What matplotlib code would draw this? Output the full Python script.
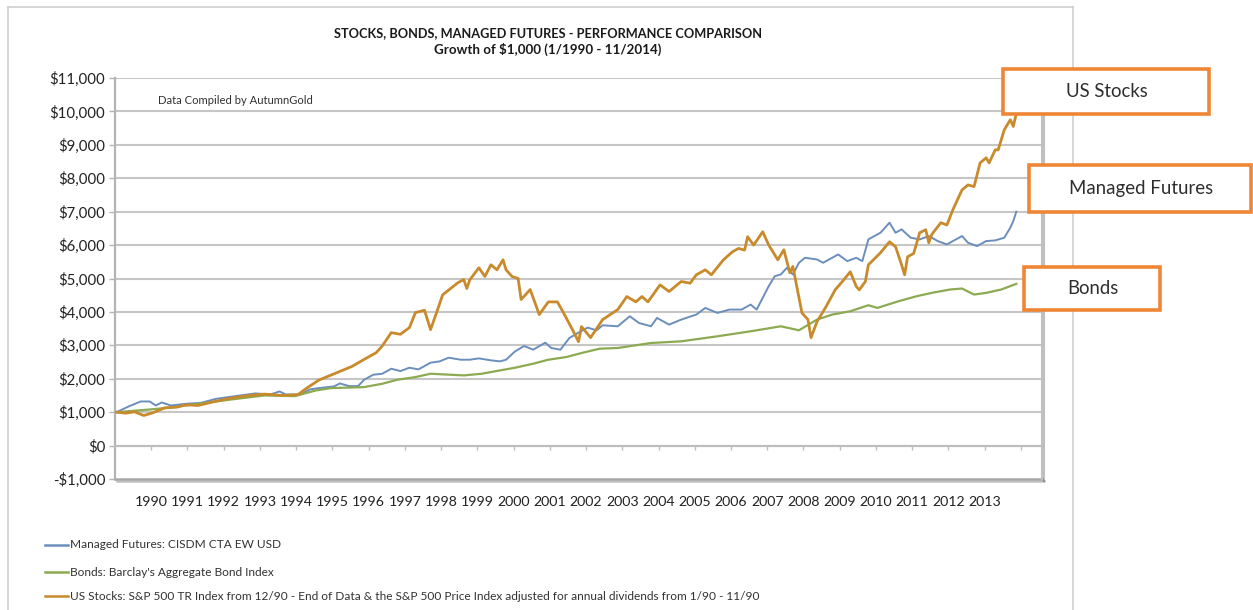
import matplotlib
matplotlib.use("Agg")
import matplotlib.pyplot as plt
import matplotlib.patheffects as pe
from matplotlib.lines import Line2D
from matplotlib.patches import Rectangle
from matplotlib.ticker import FuncFormatter, FixedLocator

plt.rcParams['font.family'] = ['Lato', 'DejaVu Sans']

TITLE = "STOCKS, BONDS, MANAGED FUTURES - PERFORMANCE COMPARISON"
SUBTITLE = "Growth of $1,000 (1/1990 - 11/2014)"
CREDIT = "Data Compiled by AutumnGold"

year_labels = [str(y) for y in range(1990, 2014)]
y_ticks = list(range(-1000, 12000, 1000))

series_names = ["Managed Futures: CISDM CTA EW USD",
                "Bonds: Barclay's Aggregate Bond Index",
                "US Stocks: S&P 500 TR Index from 12/90 - End of Data & the S&P 500 Price Index "
                "adjusted for annual dividends from 1/90 - 11/90"]
callout_names = ["Managed Futures", "Bonds", "US Stocks"]

# Managed futures: growth of $1,000
mf_dates = ["1990-01", "1990-05", "1990-09", "1990-12", "1991-02", "1991-04", "1991-07", "1991-12",
            "1992-05", "1992-10", "1993-06", "1993-11", "1994-04", "1994-07", "1994-09", "1995-02",
            "1995-05", "1995-08", "1996-01", "1996-03", "1996-06", "1996-09", "1996-11", "1997-02",
            "1997-05", "1997-08", "1997-11", "1998-02", "1998-05", "1998-09", "1998-12", "1999-03",
            "1999-07", "1999-10", "2000-01", "2000-05", "2000-08", "2000-10", "2001-01", "2001-04",
            "2001-07", "2001-11", "2002-01", "2002-04", "2002-07", "2002-10", "2003-01", "2003-04",
            "2003-06", "2003-11", "2004-03", "2004-06", "2004-10", "2004-12", "2005-04", "2005-08",
            "2006-01", "2006-04", "2006-08", "2006-12", "2007-04", "2007-07", "2007-09", "2007-11",
            "2008-01", "2008-03", "2008-05", "2008-07", "2008-09", "2008-11", "2009-01", "2009-05",
            "2009-07", "2009-10", "2009-12", "2010-03", "2010-06", "2010-08", "2010-10", "2011-02",
            "2011-05", "2011-07", "2011-09", "2011-12", "2012-03", "2012-06", "2012-09", "2012-12",
            "2013-03", "2013-05", "2013-07", "2013-10", "2014-01", "2014-04", "2014-07", "2014-09",
            "2014-10", "2014-11"]
mf_values = [1000, 1170, 1320, 1320, 1200, 1290, 1200, 1250,
             1280, 1400, 1500, 1560, 1530, 1620, 1530, 1530,
             1680, 1720, 1770, 1860, 1780, 1780, 1970, 2120,
             2150, 2300, 2230, 2330, 2280, 2480, 2520, 2630,
             2570, 2570, 2610, 2550, 2520, 2570, 2820, 2980,
             2870, 3080, 2920, 2870, 3220, 3380, 3530, 3450,
             3600, 3570, 3870, 3670, 3570, 3820, 3620, 3770,
             3920, 4120, 3970, 4070, 4070, 4220, 4070, 4420,
             4770, 5070, 5120, 5320, 5120, 5470, 5620, 5570,
             5470, 5620, 5720, 5520, 5620, 5520, 6170, 6370,
             6670, 6370, 6470, 6220, 6170, 6270, 6120, 6020,
             6170, 6270, 6070, 5970, 6120, 6140, 6220, 6520,
             6720, 7000]

# Bonds: growth of $1,000
bond_dates = ["1990-01", "1990-12", "1991-06", "1992-04", "1993-03", "1994-02", "1994-12", "1995-07",
              "1995-12", "1996-11", "1997-05", "1997-10", "1998-04", "1998-09", "1999-08", "2000-02",
              "2000-08", "2001-01", "2001-07", "2001-12", "2002-06", "2002-11", "2003-05", "2003-11",
              "2004-10", "2005-08", "2006-08", "2007-07", "2008-05", "2008-11", "2009-05", "2009-10",
              "2010-04", "2010-10", "2011-01", "2011-08", "2012-02", "2012-07", "2013-01", "2013-05",
              "2013-09", "2014-01", "2014-06", "2014-11"]
bond_values = [1000, 1080, 1130, 1250, 1380, 1500, 1480, 1650,
               1720, 1750, 1850, 1970, 2050, 2150, 2100, 2150,
               2250, 2330, 2450, 2570, 2650, 2770, 2900, 2920,
               3070, 3120, 3270, 3420, 3570, 3450, 3770, 3920,
               4020, 4200, 4120, 4320, 4470, 4570, 4670, 4700,
               4520, 4570, 4670, 4840]

# US stocks: growth of $1,000
stock_dates = ["1990-01", "1990-04", "1990-07", "1990-10", "1991-01", "1991-05", "1991-09", "1991-12",
               "1992-04", "1992-10", "1993-03", "1993-09", "1994-02", "1994-08", "1995-01", "1995-04",
               "1995-08", "1996-03", "1996-07", "1996-12", "1997-03", "1997-05", "1997-08", "1997-11",
               "1998-02", "1998-04", "1998-07", "1998-09", "1998-11", "1999-01", "1999-06", "1999-08",
               "1999-09", "1999-10", "2000-01", "2000-03", "2000-05", "2000-07", "2000-09", "2000-10",
               "2000-12", "2001-02", "2001-03", "2001-06", "2001-09", "2001-12", "2002-03", "2002-05",
               "2002-08", "2002-10", "2002-11", "2003-02", "2003-06", "2003-11", "2004-02", "2004-05",
               "2004-07", "2004-09", "2005-01", "2005-04", "2005-08", "2005-11", "2006-01", "2006-04",
               "2006-06", "2006-10", "2007-01", "2007-03", "2007-05", "2007-06", "2007-08", "2007-11",
               "2008-01", "2008-04", "2008-06", "2008-08", "2008-09", "2008-12", "2009-02", "2009-03",
               "2009-05", "2009-08", "2009-11", "2010-01", "2010-04", "2010-06", "2010-07", "2010-09",
               "2010-10", "2011-02", "2011-05", "2011-07", "2011-09", "2011-10", "2011-11", "2012-01",
               "2012-03", "2012-05", "2012-06", "2012-07", "2012-10", "2012-12", "2013-02", "2013-05",
               "2013-07", "2013-09", "2013-11", "2014-01", "2014-02", "2014-04", "2014-05", "2014-07",
               "2014-09", "2014-10", "2014-11"]
stock_values = [1000, 970, 1010, 900, 980, 1130, 1150, 1220,
                1200, 1330, 1420, 1500, 1540, 1500, 1520, 1720,
                1960, 2220, 2370, 2630, 2780, 2980, 3380, 3330,
                3530, 3980, 4050, 3470, 3980, 4510, 4870, 4970,
                4700, 4960, 5320, 5060, 5410, 5260, 5560, 5260,
                5060, 5000, 4370, 4670, 3920, 4300, 4300, 3980,
                3470, 3110, 3560, 3230, 3770, 4070, 4460, 4300,
                4460, 4300, 4810, 4610, 4910, 4860, 5110, 5260,
                5110, 5560, 5800, 5900, 5850, 6250, 6000, 6400,
                6000, 5560, 5860, 5170, 5360, 3970, 3770, 3230,
                3710, 4160, 4660, 4870, 5200, 4760, 4660, 4910,
                5410, 5770, 6100, 5950, 5410, 5110, 5650, 5750,
                6370, 6460, 6070, 6320, 6670, 6600, 7060, 7650,
                7800, 7750, 8460, 8610, 8460, 8850, 8850, 9450,
                9750, 9550, 9950]

colors = ["#6B8EBD", "#8CAA52", "#C98A2C"]
callout_color = "#EE8636"

W, H = 1253, 610


def month_index(dates):
    out = []
    for d in dates:
        y, m = d.split("-")
        out.append((int(y) - 1990) * 12 + int(m) - 1)
    return out


def fx(px):
    return px / W


def fy(py):
    return 1 - py / H


fig = plt.figure(figsize=(W / 100, H / 100), dpi=100)
fig.patch.set_facecolor("white")

# outer chart frame
for xs, ys in [((8, 8), (7, 612)), ((8, 1073), (7, 7)), ((1073, 1073), (7, 612))]:
    fig.add_artist(Line2D([fx(x) for x in xs], [fy(y) for y in ys],
                          color="#CFCFCF", lw=1.2, transform=fig.transFigure))

ax = fig.add_axes([fx(115), fy(479), fx(1042) - fx(115), fy(78) - fy(479)])
ax.set_xlim(-0.5, 306.5)
ax.set_ylim(-1000, 11000)

for v in y_ticks[1:]:
    ax.axhline(v, color="#C6C6C6", lw=1.5, zorder=0)

shadow = [pe.SimpleLineShadow(offset=(1.2, -1.2), shadow_color="#000000", alpha=0.25), pe.Normal()]
ax.axhline(-1000, color="#A8A8A8", lw=1.8, zorder=3, clip_on=False, path_effects=shadow)
ax.axvline(306.5, color="#C0C0C0", lw=1.5, zorder=3, clip_on=False, path_effects=shadow)

for s in ["top", "right"]:
    ax.spines[s].set_visible(False)
ax.spines["left"].set_color("#B4B4B4")
ax.spines["left"].set_linewidth(1.6)
ax.spines["bottom"].set_position(("data", 0))
ax.spines["bottom"].set_color("#BDBDBD")
ax.spines["bottom"].set_linewidth(1.5)

ax.yaxis.set_major_locator(FixedLocator(y_ticks))
ax.yaxis.set_major_formatter(FuncFormatter(
    lambda v, p: ("-$" if v < 0 else "$") + f"{abs(int(v)):,}"))
ax.tick_params(axis="y", direction="out", length=4, width=1, color="#B4B4B4",
               labelsize=10.8, labelcolor="#222222", pad=3)

tick_pos = [11.5 + 12 * k for k in range(25)]
ax.set_xticks(tick_pos)
ax.set_xticklabels(year_labels + [""])
ax.tick_params(axis="x", direction="out", length=3, width=1, color="#BDBDBD",
               labelsize=10.2, labelcolor="#222222", pad=33)
for lbl in ax.get_xticklabels():
    lbl.set_x(lbl.get_position()[0])

for dates, vals, c, lw in [(mf_dates, mf_values, colors[0], 1.4),
                           (bond_dates, bond_values, colors[1], 1.6),
                           (stock_dates, stock_values, colors[2], 2.0)]:
    ax.plot(month_index(dates), vals, color=c, lw=lw, solid_joinstyle="round", zorder=4)

# titles
fig.text(fx(548), fy(33), TITLE, ha="center", va="center", fontsize=9.2,
         fontweight="bold", color="#1A1A1A")
fig.text(fx(548), fy(49), SUBTITLE, ha="center", va="center", fontsize=9.6,
         fontweight="bold", color="#1A1A1A")
fig.text(fx(158), fy(100), CREDIT, ha="left", va="center", fontsize=8.1, color="#333333")

# legend under the chart
for name, c, py in zip(series_names, colors, [545, 572, 596]):
    fig.add_artist(Line2D([fx(45), fx(68)], [fy(py), fy(py)], color=c, lw=1.8,
                          transform=fig.transFigure))
    fig.text(fx(70), fy(py), name, ha="left", va="center", fontsize=8.6, color="#333333")

# callout boxes
boxes = {"US Stocks": (1003, 69, 1209, 114),
         "Managed Futures": (1029, 165, 1251, 212),
         "Bonds": (1024, 267, 1160, 310)}
for name in callout_names:
    x0, y0, x1, y1 = boxes[name]
    fig.add_artist(Rectangle((fx(x0), fy(y1)), fx(x1) - fx(x0), fy(y0) - fy(y1),
                             transform=fig.transFigure, facecolor="white",
                             edgecolor=callout_color, lw=2.6, zorder=10))
    fig.text(fx((x0 + x1) / 2 + 1), fy((y0 + y1) / 2), name, ha="center", va="center",
             fontsize=13.4, color="#2E2E2E", zorder=11)

fig.savefig("out.png", dpi=100)
